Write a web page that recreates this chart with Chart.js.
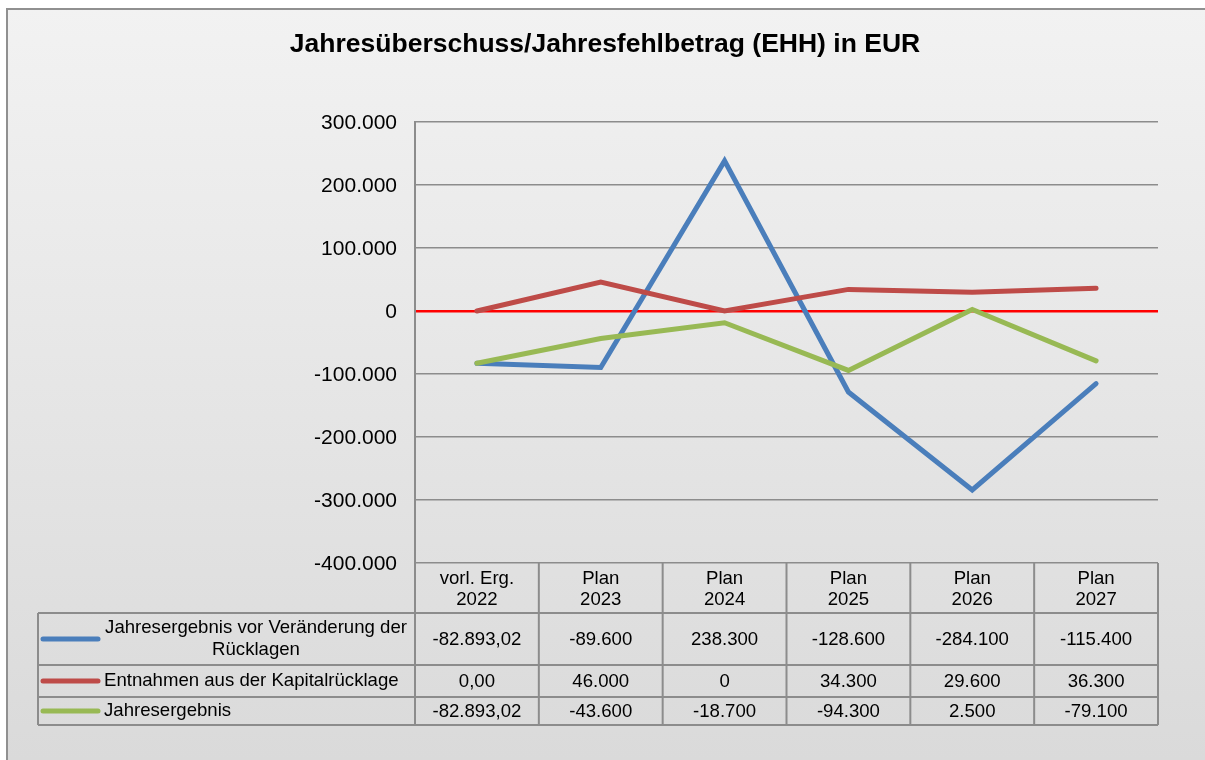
<!DOCTYPE html>
<html>
<head>
<meta charset="utf-8">
<script src="https://cdn.jsdelivr.net/npm/chart.js@4/dist/chart.umd.min.js"></script>
<style>
  html, body { margin: 0; padding: 0; background: #fff; }
  #wrap { width: 1205px; height: 760px; position: relative; }
</style>
</head>
<body>
<div id="wrap"><canvas id="chart"></canvas></div>
<script>
// data
var categories = [['vorl. Erg.', '2022'], ['Plan', '2023'], ['Plan', '2024'], ['Plan', '2025'], ['Plan', '2026'], ['Plan', '2027']];
var seriesNames = [['Jahresergebnis vor Veränderung der', 'Rücklagen'], ['Entnahmen aus der Kapitalrücklage'], ['Jahresergebnis']];
var vorVeraenderung = [-82893.02, -89600, 238300, -128600, -284100, -115400];
var entnahmen = [0, 46000, 0, 34300, 29600, 36300];
var jahresergebnis = [-82893.02, -43600, -18700, -94300, 2500, -79100];
var yTicks = [300000, 200000, 100000, 0, -100000, -200000, -300000, -400000];

var FONT = '"Liberation Sans", Arial, sans-serif';
var GRID = '#8c8c8c';

function fmt(v, dec) {
    var neg = v < 0;
    var parts = Math.abs(v).toFixed(dec).split('.');
    var s = parts[0].replace(/\B(?=(\d{3})+(?!\d))/g, '.');
    if (parts[1]) s += ',' + parts[1];
    return (neg ? '-' : '') + s;
}

var bgPlugin = {
    id: 'bg',
    beforeDraw: function (chart) {
        var ctx = chart.ctx;
        ctx.save();
        ctx.fillStyle = '#ffffff';
        ctx.fillRect(0, 0, chart.width, chart.height);
        var g = ctx.createLinearGradient(0, 8, 0, chart.height);
        g.addColorStop(0, '#f2f2f2');
        g.addColorStop(1, '#dadada');
        ctx.fillStyle = g;
        ctx.fillRect(7, 9, chart.width - 7, chart.height - 9);
        ctx.strokeStyle = '#909090';
        ctx.lineWidth = 2;
        ctx.beginPath();
        ctx.moveTo(7, chart.height);
        ctx.lineTo(7, 9);
        ctx.lineTo(chart.width, 9);
        ctx.stroke();
        // title
        ctx.fillStyle = '#000';
        ctx.font = 'bold 26.5px ' + FONT;
        ctx.textAlign = 'center';
        ctx.textBaseline = 'middle';
        ctx.fillText('Jahresüberschuss/Jahresfehlbetrag (EHH) in EUR', 605, 45);
        ctx.restore();
    }
};

// data table under the plot, columns follow the x scale
var tablePlugin = {
    id: 'dataTable',
    afterDraw: function (chart) {
        var ctx = chart.ctx;
        var x = chart.scales.x;
        var area = chart.chartArea;
        var n = categories.length;
        var half = (area.right - area.left) / n / 2;
        var rows = [613, 665, 697, 725];
        var tableLeft = 38;
        ctx.save();
        ctx.strokeStyle = GRID;
        ctx.lineWidth = 2;
        ctx.beginPath();
        rows.forEach(function (y) {
            ctx.moveTo(tableLeft, y);
            ctx.lineTo(area.right, y);
        });
        ctx.moveTo(tableLeft, rows[0]);
        ctx.lineTo(tableLeft, rows[3]);
        for (var i = 0; i <= n; i++) {
            var cx = i < n ? x.getPixelForValue(i) - half : x.getPixelForValue(n - 1) + half;
            ctx.moveTo(cx, area.bottom);
            ctx.lineTo(cx, rows[3]);
        }
        ctx.stroke();

        ctx.font = '18.6px ' + FONT;
        ctx.textBaseline = 'middle';
        chart.data.datasets.forEach(function (ds, r) {
            var top = rows[r], bottom = rows[r + 1];
            var mid = (top + bottom) / 2;
            // legend key
            ctx.strokeStyle = ds.borderColor;
            ctx.lineWidth = 5;
            ctx.lineCap = 'round';
            ctx.beginPath();
            ctx.moveTo(43, mid);
            ctx.lineTo(98, mid);
            ctx.stroke();
            // series name
            ctx.fillStyle = '#000';
            var names = seriesNames[r];
            if (names.length > 1) {
                ctx.textAlign = 'center';
                ctx.fillText(names[0], 256, mid - 11);
                ctx.fillText(names[1], 256, mid + 11);
            } else {
                ctx.textAlign = 'left';
                ctx.fillText(names[0], 104, mid);
            }
            // values
            ctx.textAlign = 'center';
            ds.data.forEach(function (v, i) {
                ctx.fillText(fmt(v, i === 0 ? 2 : 0), x.getPixelForValue(i), mid + 1);
            });
        });
        ctx.restore();
    }
};

var lineStyle = { fill: false, tension: 0, pointRadius: 0, borderWidth: 5, borderCapStyle: 'round', borderJoinStyle: 'miter' };

new Chart(document.getElementById('chart'), {
    type: 'line',
    data: {
        labels: categories,
        datasets: [
            Object.assign({ label: seriesNames[0].join(' '), data: vorVeraenderung, borderColor: '#4a7ebb', order: 3 }, lineStyle),
            Object.assign({ label: seriesNames[1][0], data: entnahmen, borderColor: '#be4b48', order: 2 }, lineStyle),
            Object.assign({ label: seriesNames[2][0], data: jahresergebnis, borderColor: '#98b954', order: 1 }, lineStyle)
        ]
    },
    options: {
        responsive: true,
        maintainAspectRatio: false,
        animation: false,
        layout: { padding: { top: 122, right: 47, left: 0, bottom: 0 } },
        plugins: { legend: { display: false }, title: { display: false }, tooltip: { enabled: false } },
        scales: {
            x: {
                offset: true,
                afterFit: function (s) { s.height = 197; },
                grid: { display: false, drawTicks: false },
                border: { display: false },
                ticks: { color: '#000', padding: 5, maxRotation: 0, autoSkip: false, font: { family: FONT, size: 18.6, lineHeight: 1.16 } }
            },
            y: {
                min: -400000,
                max: 300000,
                afterFit: function (s) { s.width = 415; },
                afterBuildTicks: function (s) { s.ticks = yTicks.map(function (v) { return { value: v }; }); },
                grid: {
                    drawTicks: false,
                    color: function (c) { return c.tick && c.tick.value === 0 ? '#ff0000' : GRID; },
                    lineWidth: function (c) { return c.tick && c.tick.value === 0 ? 2.5 : 1.5; }
                },
                border: { display: true, color: GRID, width: 2 },
                ticks: {
                    color: '#000', padding: 18, labelOffset: 1,
                    font: { family: FONT, size: 21 },
                    callback: function (v) { return fmt(v, 0); }
                }
            }
        }
    },
    plugins: [bgPlugin, tablePlugin]
});
</script>
</body>
</html>
